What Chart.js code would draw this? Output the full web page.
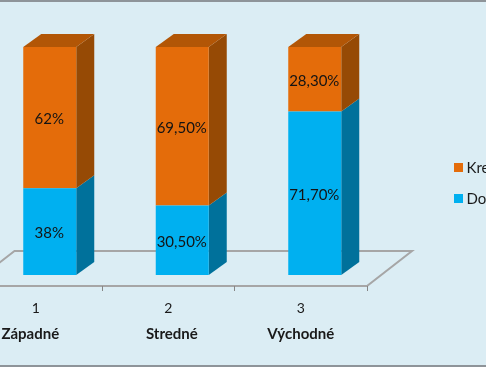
<!DOCTYPE html>
<html><head><meta charset="utf-8">
<script src="https://cdn.jsdelivr.net/npm/chart.js@4"></script>
<style>
html,body{margin:0;padding:0;width:486px;height:367px;overflow:hidden;background:#DBEDF4}
#wrap{position:absolute;left:0;top:0;width:486px;height:367px;overflow:hidden}
canvas{position:absolute;left:-40px;top:0}
#t{position:absolute;left:0;top:0;width:486px;height:2px;background:#8E9499}
#b{position:absolute;left:0;top:365px;width:486px;height:2px;background:#8E9499}
</style></head><body>
<div id="wrap"><canvas id="c" width="526" height="367"></canvas><div id="t"></div><div id="b"></div></div>
<script>
const categories = ["1","2","3"];
const regions = ["Západné","Stredné","Východné"];
const seriesNames = ["Do","Kre"];
const bottomValues = [38,30.5,71.7];
const topValues = [62,69.5,28.3];
const fronts = ["#00B0F0","#E46C0A"];
const sides = ["#00719B","#964A05"];
const tops = ["#0089BB","#B25606"];
const DX=18, DY=-13;
const FONT='Lato, "Open Sans", sans-serif';
const NB="\u00a0";
const fmt=v=>(Number.isInteger(v)?String(v):v.toFixed(2).replace(".",","))+"%";

const bars3d={id:"bars3d",
 beforeDatasetsDraw(chart){
  const c=chart.ctx,a=chart.chartArea,xs=chart.scales.x;
  const fl=a.left-14,fr=a.right-14,fy=a.bottom+11,bx=45,by=-35;
  c.save();c.strokeStyle="#A6A6A6";c.lineWidth=2;
  c.beginPath();c.moveTo(fl,fy);c.lineTo(fr,fy);c.lineTo(fr+bx,fy+by);c.lineTo(fl+bx,fy+by);c.closePath();c.stroke();
  c.lineWidth=1;c.strokeStyle="#868686";c.beginPath();
  const step=xs.getPixelForValue(1)-xs.getPixelForValue(0);
  categories.forEach((_,i)=>{const x=Math.floor(xs.getPixelForValue(i)+step/2-14)+.5;c.moveTo(x,fy);c.lineTo(x,fy+5);});
  c.stroke();c.restore();
  c.save();
  chart.data.datasets.forEach((d,di)=>{
   chart.getDatasetMeta(di).data.forEach(b=>{
    const r=b.x+b.width/2,l=b.x-b.width/2;
    c.fillStyle=sides[di];c.beginPath();c.moveTo(r,b.y);c.lineTo(r+DX,b.y+DY);c.lineTo(r+DX,b.base+DY);c.lineTo(r,b.base);c.closePath();c.fill();
    if(di===chart.data.datasets.length-1){c.fillStyle=tops[di];c.beginPath();c.moveTo(l,b.y);c.lineTo(l+DX,b.y+DY);c.lineTo(r+DX,b.y+DY);c.lineTo(r,b.y);c.closePath();c.fill();}
   });
  });
  c.restore();
 },
 afterDatasetsDraw(chart){
  const c=chart.ctx;c.save();c.font='15px '+FONT;c.fillStyle="#141414";c.textAlign="center";c.textBaseline="middle";
  chart.data.datasets.forEach((d,di)=>{
   chart.getDatasetMeta(di).data.forEach((b,i)=>{c.fillText(fmt(d.data[i]),b.x-.5,(b.y+b.base)/2+1.5);});
  });
  c.restore();
 },
 beforeDraw(chart){
  const l=chart.legend;const w=l.width,h=l.height;
  l.left=483;l.right=l.left+w;l.top=145;l.bottom=l.top+h;
 },
 afterDraw(chart){
  const c=chart.ctx,l=chart.legend,o=l.options.labels;
  c.save();
  l.legendItems.forEach((it,i)=>{
   c.fillStyle=it.fillStyle;
   c.fillRect(494,l.top+10+i*(o.font.size+o.padding)+8,9,9);
  });
  c.restore();
 }
};
new Chart(document.getElementById("c"),{
 type:"bar",
 data:{labels:categories,datasets:[
  {label:seriesNames[0],data:bottomValues,backgroundColor:fronts[0],barPercentage:.4,categoryPercentage:1},
  {label:seriesNames[1],data:topValues,backgroundColor:fronts[1],barPercentage:.4,categoryPercentage:1}
 ]},
 plugins:[bars3d],
 options:{
  responsive:false,animation:false,
  layout:{padding:{left:23.5,right:105,top:47,bottom:0}},
  scales:{
   y:{display:false,stacked:true,min:0,max:100},
   x:{stacked:true,position:"bottom",offset:true,
      border:{display:false},grid:{display:false},
      afterFit(s){s.height=39;},
      ticks:{padding:17,labelOffset:-14,maxRotation:0,autoSkip:false,color:"#1A1A1A",font:{family:FONT,size:14}}},
   x2:{type:"category",labels:regions,position:"bottom",offset:true,
      border:{display:false},grid:{display:false},
      afterFit(s){s.height=53;},
      ticks:{padding:3,labelOffset:-14,maxRotation:0,autoSkip:false,color:"#1A1A1A",font:{family:FONT,size:15,weight:"bold"},
        callback(v,i){const n=regions[i];return i===0?n+NB.repeat(3):i===1?NB.repeat(2)+n:n;}}}
  },
  plugins:{
   tooltip:{enabled:false},
   legend:{position:"chartArea",align:"start",reverse:true,
     labels:{boxWidth:0,boxHeight:0,padding:16,color:"#1A1A1A",font:{family:FONT,size:15}}}
  }
 }
});
</script></body></html>
